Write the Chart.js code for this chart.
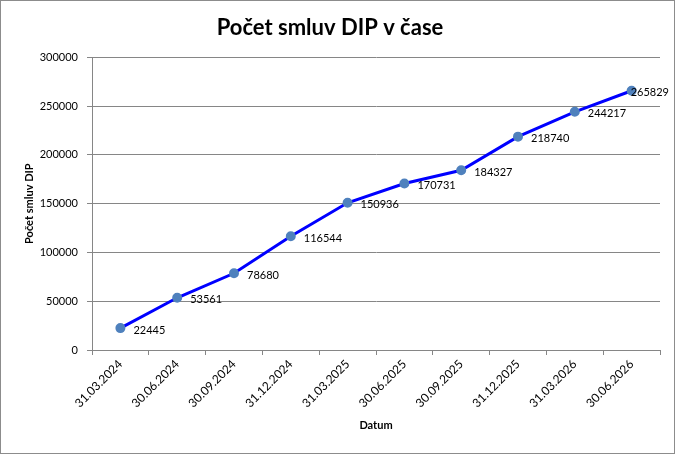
<!DOCTYPE html>
<html><head><meta charset="utf-8">
<script src="https://cdn.jsdelivr.net/npm/chart.js@4/dist/chart.umd.min.js"></script>
<style>html,body{margin:0;padding:0;background:#fff}#wrap{width:675px;height:454px;position:relative}</style>
</head><body><div id="wrap"><canvas id="c" width="675" height="454"></canvas></div>
<script>
const categories = ['31.03.2024','30.06.2024','30.09.2024','31.12.2024','31.03.2025','30.06.2025','30.09.2025','31.12.2025','31.03.2026','30.06.2026'];
const contracts = [22445, 53561, 78680, 116544, 150936, 170731, 184327, 218740, 244217, 265829];
const yTicks = [0, 50000, 100000, 150000, 200000, 250000, 300000];
const chartTitle = 'Počet smluv DIP v čase';
const yTitle = 'Počet smluv DIP';
const xTitle = 'Datum';

const FONT = 'Lato, "Open Sans", sans-serif';
const GRID = '#868686';

const labelPlugin = {
  id: 'valueLabels',
  afterDatasetsDraw(chart) {
    const ctx = chart.ctx;
    const meta = chart.getDatasetMeta(0);
    ctx.save();
    ctx.font = '11px ' + FONT;
    ctx.fillStyle = '#000';
    ctx.textBaseline = 'middle';
    ctx.textAlign = 'left';
    meta.data.forEach((pt, i) => {
      const txt = String(chart.data.datasets[0].data[i]);
      const w = ctx.measureText(txt).width;
      let x = pt.x + 13;
      if (x + w > chart.width - 6) x = chart.width - 6 - w;
      ctx.fillText(txt, x, pt.y + 2);
    });
    ctx.restore();
  }
};
const borderPlugin = {
  id: 'frame',
  afterDraw(chart) {
    const ctx = chart.ctx;
    ctx.save();
    ctx.strokeStyle = '#8c8c8c';
    ctx.lineWidth = 1;
    ctx.strokeRect(0.5, 0.5, chart.width - 1, chart.height - 1);
    ctx.restore();
  }
};

new Chart(document.getElementById('c'), {
  type: 'line',
  data: {
    labels: categories,
    datasets: [{
      data: contracts,
      borderColor: '#0000ff',
      borderWidth: 3,
      backgroundColor: '#4f81bd',
      pointBackgroundColor: '#4f81bd',
      pointBorderColor: '#4f81bd',
      pointRadius: 3.5,
      tension: 0,
      fill: false
    }]
  },
  options: {
    responsive: false,
    animation: false,
    devicePixelRatio: 1,
    layout: { padding: { left: 0, right: 15, top: 0, bottom: 0 } },
    plugins: {
      legend: { display: false },
      tooltip: { enabled: false },
      title: {
        display: true,
        text: chartTitle,
        color: '#000',
        font: { family: FONT, size: 22, weight: 'bold', lineHeight: 1.2 },
        padding: { top: 15, bottom: 16 }
      }
    },
    scales: {
      x: {
        type: 'category',
        offset: true,
        grid: { display: true, drawOnChartArea: false, drawTicks: true, tickLength: 5, offset: true, color: GRID },
        border: { display: true, color: GRID },
        ticks: { color: '#000', font: { family: FONT, size: 12 }, minRotation: 45, maxRotation: 45, padding: 2, autoSkip: false },
        title: { display: true, text: xTitle, color: '#000', font: { family: FONT, size: 11, weight: 'bold' }, padding: { top: 4, bottom: 22 } },
        afterFit(s) { s.height = 104; }
      },
      y: {
        min: 0, max: 300000,
        afterBuildTicks(s) { s.ticks = yTicks.map(v => ({ value: v })); },
        grid: { display: true, drawOnChartArea: true, drawTicks: true, tickLength: 5, color: GRID },
        border: { display: true, color: GRID },
        ticks: { color: '#000', font: { family: FONT, size: 11 }, padding: 9, callback: v => String(v) },
        title: { display: true, text: yTitle, color: '#000', font: { family: FONT, size: 11, weight: 'bold' }, padding: { top: 23, bottom: 0 } },
        afterFit(s) { s.width = 92; }
      }
    }
  },
  plugins: [labelPlugin, borderPlugin]
});
</script>
</body></html>
